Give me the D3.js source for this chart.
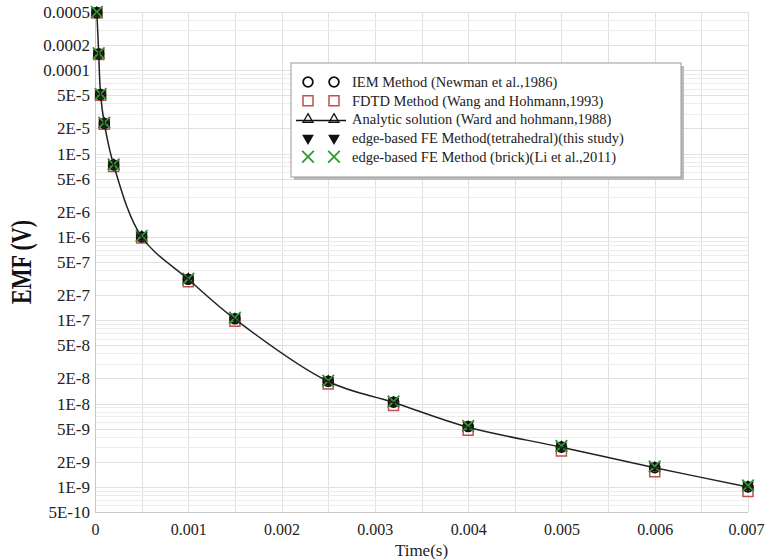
<!DOCTYPE html>
<html>
<head>
<meta charset="utf-8">
<script src="https://cdn.jsdelivr.net/npm/d3@7"></script>
<style>
  html, body { margin: 0; padding: 0; background: #fff; }
  svg { display: block; }
  text { font-family: "Liberation Serif", "Times New Roman", serif; }
</style>
</head>
<body>
<svg id="chart" width="766" height="560"></svg>
<script>
// ---- data ----
const times    = [0.00002, 0.00004, 0.00006, 0.0001, 0.0002, 0.0005, 0.001, 0.0015, 0.0025, 0.0032, 0.004, 0.005, 0.006, 0.007];
const analytic = [4.9e-4, 1.57e-4, 5.1e-5, 2.3e-5, 7.3e-6, 1.0e-6, 3.1e-7, 1.03e-7, 1.84e-8, 1.03e-8, 5.2e-9, 3.0e-9, 1.7e-9, 1.0e-9];
const iem      = [4.9e-4, 1.57e-4, 5.1e-5, 2.3e-5, 7.3e-6, 1.0e-6, 3.1e-7, 1.04e-7, 1.85e-8, 1.04e-8, 5.3e-9, 3.0e-9, 1.7e-9, 1.0e-9];
const fdtd     = [4.85e-4, 1.55e-4, 5.0e-5, 2.25e-5, 7.0e-6, 0.97e-6, 2.9e-7, 0.97e-7, 1.72e-8, 0.95e-8, 4.8e-9, 2.7e-9, 1.52e-9, 0.88e-9];
const feTet    = [5.0e-4, 1.6e-4, 5.2e-5, 2.35e-5, 7.5e-6, 1.04e-6, 3.2e-7, 1.08e-7, 1.9e-8, 1.07e-8, 5.5e-9, 3.1e-9, 1.78e-9, 1.05e-9];
const feBrick  = [5.0e-4, 1.6e-4, 5.2e-5, 2.35e-5, 7.4e-6, 1.03e-6, 3.15e-7, 1.07e-7, 1.88e-8, 1.06e-8, 5.4e-9, 3.1e-9, 1.76e-9, 1.04e-9];

const xTicks = [0, 0.001, 0.002, 0.003, 0.004, 0.005, 0.006, 0.007];
const xTickLabels = ["0", "0.001", "0.002", "0.003", "0.004", "0.005", "0.006", "0.007"];
const yTicks = [5e-4, 2e-4, 1e-4, 5e-5, 2e-5, 1e-5, 5e-6, 2e-6, 1e-6, 5e-7, 2e-7, 1e-7, 5e-8, 2e-8, 1e-8, 5e-9, 2e-9, 1e-9, 5e-10];
const yTickLabels = ["0.0005", "0.0002", "0.0001", "5E-5", "2E-5", "1E-5", "5E-6", "2E-6", "1E-6", "5E-7", "2E-7", "1E-7", "5E-8", "2E-8", "1E-8", "5E-9", "2E-9", "1E-9", "5E-10"];
const legendLabels = [
  "IEM Method (Newman et al.,1986)",
  "FDTD Method (Wang and Hohmann,1993)",
  "Analytic solution (Ward and hohmann,1988)",
  "edge-based FE Method(tetrahedral)(this study)",
  "edge-based FE Method (brick)(Li et al.,2011)"
];
const xLabel = "Time(s)";
const yLabel = "EMF (V)";

// ---- layout ----
const svg = d3.select("#chart");
const L = 95, R = 748, T = 12, B = 512;
const x = d3.scaleLinear().domain([0, 0.007]).range([L, R]);
const y = d3.scaleLog().domain([5e-10, 5e-4]).range([B, T]);

const grid = svg.append("g");
// vertical grid every 0.0005
const vGrid = d3.range(0, 15).map(i => i * 0.0005);
grid.selectAll(".vg").data(vGrid).enter().append("line")
  .attr("x1", d => Math.round(x(d)) + 0.5).attr("x2", d => Math.round(x(d)) + 0.5)
  .attr("y1", T).attr("y2", B)
  .attr("stroke", "#e0e0e0").attr("stroke-width", 1);
// horizontal minor grid
const hGrid = [];
for (let e = -10; e <= -4; e++) for (let m = 1; m <= 9; m++) {
  const v = m * Math.pow(10, e);
  if (v >= 5e-10 * 0.999 && v <= 5e-4 * 1.001) hGrid.push(v);
}
grid.selectAll(".hg").data(hGrid).enter().append("line")
  .attr("x1", L).attr("x2", R)
  .attr("y1", d => Math.round(y(d)) + 0.5).attr("y2", d => Math.round(y(d)) + 0.5)
  .attr("stroke", d => [1, 2, 5].includes(Math.round(d / Math.pow(10, Math.floor(Math.log10(d) + 1e-9)))) ? "#e0e0e0" : "#ececec")
  .attr("stroke-width", 1);

// axes lines
svg.append("line").attr("x1", L + 0.5).attr("x2", L + 0.5).attr("y1", T).attr("y2", B).attr("stroke", "#c8c8c8");
svg.append("line").attr("x1", L).attr("x2", R).attr("y1", B + 0.5).attr("y2", B + 0.5).attr("stroke", "#c8c8c8");

// y axis via d3
const yAxis = d3.axisLeft(y).tickValues(yTicks).tickSize(0).tickPadding(5)
  .tickFormat((d, i) => yTickLabels[i]);
const gy = svg.append("g").attr("transform", `translate(${L},0)`).call(yAxis);
gy.select(".domain").remove();
gy.selectAll("text").attr("font-family", "Liberation Serif").attr("font-size", 17).attr("fill", "#222");

const xAxis = d3.axisBottom(x).tickValues(xTicks).tickSize(0).tickPadding(12)
  .tickFormat((d, i) => xTickLabels[i]);
const gx = svg.append("g").attr("transform", `translate(0,${B})`).call(xAxis);
gx.select(".domain").remove();
gx.selectAll("text").attr("font-family", "Liberation Serif").attr("font-size", 16).attr("fill", "#222");
// keep the last label inside the canvas
gx.selectAll("text").filter((d, i) => i === xTicks.length - 1)
  .attr("text-anchor", "end").attr("x", 764 - x(xTicks[xTicks.length - 1]));

svg.append("text").attr("x", (L + R) / 2).attr("y", 556).attr("text-anchor", "middle")
  .attr("font-size", 17).attr("fill", "#222").text(xLabel);
svg.append("text").attr("transform", "translate(31,262) scale(1.3,1) rotate(-90)")
  .attr("text-anchor", "middle").attr("font-size", 22).attr("font-weight", "bold")
  .attr("fill", "#111").text(yLabel);

// ---- markers ----
const red = "#c0504d", green = "#2e9a2e";
const sq = d3.symbol().type(d3.symbolSquare).size(100)();
const circ = d3.symbol().type(d3.symbolCircle).size(75)();
const tri = d3.symbol().type(d3.symbolTriangle2).size(70)();
const triF = d3.symbol().type(d3.symbolTriangle).size(60)();
const times2 = d3.symbol().type(d3.symbolTimes).size(90)();

function pts(arr) { return times.map((t, i) => [x(t), y(arr[i])]); }
const mk = svg.append("g");
mk.selectAll(".s").data(pts(fdtd)).enter().append("path").attr("d", sq)
  .attr("transform", d => `translate(${d[0]},${d[1]})`)
  .attr("fill", "none").attr("stroke", red).attr("stroke-width", 1.5);
mk.selectAll(".c").data(pts(iem)).enter().append("path").attr("d", circ)
  .attr("transform", d => `translate(${d[0]},${d[1]})`)
  .attr("fill", "none").attr("stroke", "#111").attr("stroke-width", 1.8);
mk.selectAll(".t").data(pts(analytic)).enter().append("path").attr("d", tri)
  .attr("transform", d => `translate(${d[0]},${d[1]})`)
  .attr("fill", "none").attr("stroke", "#111").attr("stroke-width", 1.3);
mk.selectAll(".f").data(pts(feTet)).enter().append("path").attr("d", triF)
  .attr("transform", d => `translate(${d[0]},${d[1]}) rotate(180)`)
  .attr("fill", "#111");
mk.selectAll(".x").data(pts(feBrick)).enter().append("path").attr("d", times2)
  .attr("transform", d => `translate(${d[0]},${d[1]})`)
  .attr("fill", "none").attr("stroke", green).attr("stroke-width", 1.8);

// analytic line
svg.append("path").datum(pts(analytic))
  .attr("d", d3.line().curve(d3.curveCatmullRom.alpha(0.5)))
  .attr("fill", "none").attr("stroke", "#222").attr("stroke-width", 1.5);

// ---- legend ----
const lg = svg.append("g");
const lx = 291, ly = 63, lw = 390, lh = 114;
lg.append("rect").attr("x", lx + 3).attr("y", ly + 3).attr("width", lw).attr("height", lh).attr("fill", "#bbb");
lg.append("rect").attr("x", lx).attr("y", ly).attr("width", lw).attr("height", lh)
  .attr("fill", "#fff").attr("stroke", "#999").attr("stroke-width", 1);
const rowY = i => 82 + i * 18.7;
const m1 = 308, m2 = 334;
legendLabels.forEach((lab, i) => {
  const yy = rowY(i);
  const g = lg.append("g");
  [m1, m2].forEach(mx => {
    const p = g.append("path").attr("transform", `translate(${mx},${yy})` + (i === 3 ? " rotate(180)" : ""));
    if (i === 0) p.attr("d", circ).attr("fill", "none").attr("stroke", "#111").attr("stroke-width", 1.8);
    if (i === 1) p.attr("d", sq).attr("fill", "none").attr("stroke", red).attr("stroke-width", 1.5);
    if (i === 2) p.attr("d", tri).attr("fill", "none").attr("stroke", "#111").attr("stroke-width", 1.3);
    if (i === 3) p.attr("d", triF).attr("fill", "#111");
    if (i === 4) p.attr("d", times2).attr("fill", "none").attr("stroke", green).attr("stroke-width", 1.8);
  });
  if (i === 2) g.append("line").attr("x1", 296).attr("x2", 346).attr("y1", yy + 1).attr("y2", yy + 1)
    .attr("stroke", "#111").attr("stroke-width", 1.5);
  g.append("text").attr("x", 352).attr("y", yy).attr("dy", "0.35em")
    .attr("font-size", 14.5).attr("fill", "#222").text(lab);
});
</script>
</body>
</html>
